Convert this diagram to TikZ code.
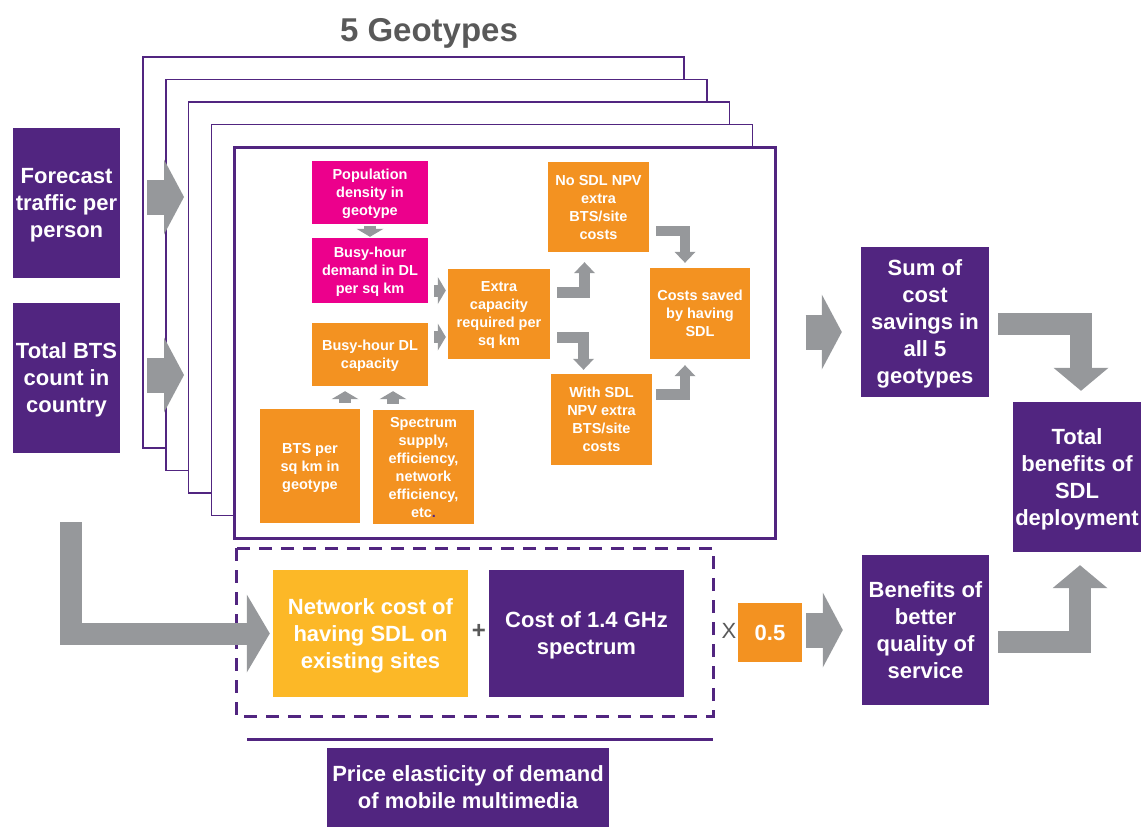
\documentclass[tikz,border=0pt]{standalone}
\usepackage{fontspec}
\setmainfont{Liberation Sans}
\usetikzlibrary{arrows.meta,calc,positioning}
\definecolor{plum}{RGB}{81,37,128}
\definecolor{mag}{RGB}{236,0,140}
\definecolor{orng}{RGB}{243,146,33}
\definecolor{gold}{RGB}{252,184,39}
\definecolor{arrgray}{RGB}{150,152,155}
\definecolor{titlegray}{RGB}{89,89,89}
\tikzset{
	txtbox/.style={inner sep=0pt,align=center,text=white,font=\bfseries\fontsize{22}{27}\selectfont,text depth=-2.5pt},
	pbox/.style={txtbox,fill=plum},
	sbox/.style={inner sep=0pt,align=center,text=white,font=\bfseries\fontsize{14.5}{18}\selectfont,text depth=-3.5pt},
	obox/.style={sbox,fill=orng},
	mbox/.style={sbox,fill=mag},
	geoframe/.style={draw=plum,fill=white,line width=1.5pt,minimum width=541pt,minimum height=391pt,inner sep=0pt},
	bigarrow/.style={arrgray,line width=35pt,-{Triangle[length=20pt,width=75pt,line width=0pt]}},
	lbarrow/.style={arrgray,line width=22pt,-{Triangle[length=23pt,width=78pt,line width=0pt]}},
	bigelbow/.style={arrgray,line width=22pt,-{Triangle[length=23pt,width=55pt,line width=0pt]}},
	smallelbow/.style={arrgray,line width=10.5pt,-{Triangle[length=11pt,width=21pt,line width=0pt]}},
	tinyarrow/.style={arrgray,line width=12pt,-{Triangle[length=8pt,width=27pt,line width=0pt]}}
}
\begin{document}
\begin{tikzpicture}[x=1pt,y=-1pt]
	\useasboundingbox (0,0) rectangle (1141,827);
	\node[font=\bfseries\fontsize{33}{38}\selectfont,text=titlegray] (title) at (429,33) {5 Geotypes};
	% stacked geotypes
	\foreach \i in {0,...,3}
		\node[geoframe] (geo\i) at (413.5+22.75*\i,252.5+22.5*\i) {};
	\node[geoframe,line width=3pt] (geo4) at (504.5,342.5) {};
	
	\node[pbox,minimum width=107pt,minimum height=150pt] (fc) at (66.5,203) {Forecast\\traffic per\\person};
	\node[pbox,minimum width=107pt,minimum height=150pt] (tbts) at (66.5,378) {Total BTS\\count in\\country};
	
	\node[mbox,minimum width=116pt,minimum height=63pt] (pop) at (370,192.5) {Population\\density in\\geotype};
	\node[mbox,minimum width=116pt,minimum height=65pt] (demand) at (370,270.5) {Busy-hour\\demand in DL\\per sq km};
	\node[obox,minimum width=116pt,minimum height=63pt] (bdl) at (370,354.5) {Busy-hour DL\\capacity};
	\node[obox,minimum width=100pt,minimum height=114pt] (bts) at (310,466) {BTS per\\sq km in\\geotype};
	\node[obox,minimum width=101pt,minimum height=114pt] (spec) at (423.5,467) {Spectrum\\supply,\\efficiency,\\network\\efficiency,\\etc{\color{plum}.}};
	\node[obox,minimum width=102pt,minimum height=90pt] (cap) at (499,313.5) {Extra\\capacity\\required per\\sq km};
	\node[obox,minimum width=101pt,minimum height=90pt] (nosdl) at (598.5,207) {No SDL NPV\\extra\\BTS/site\\costs};
	\node[obox,minimum width=101pt,minimum height=91pt] (withsdl) at (601.5,419.5) {With SDL\\NPV extra\\BTS/site\\costs};
	\node[obox,minimum width=100pt,minimum height=91pt] (saved) at (700,313.5) {Costs saved\\by having\\SDL};
	
	\draw[tinyarrow] ($(pop.south)+(0,2)$) -- ($(demand.north)+(0,-1)$);
	\draw[tinyarrow] ($(bts.north)+(35,-6)$) -- ($(bdl.south)+(-25,5)$);
	\draw[tinyarrow] ($(spec.north)+(-30.5,-6)$) -- ($(bdl.south)+(23,5)$);
	\draw[tinyarrow] ($(demand.east)+(6,20)$) -- ($(cap.west)+(-2,-23)$);
	\draw[tinyarrow] ($(bdl.east)+(6,-17.5)$) -- ($(cap.west)+(-2,23.5)$);
	\draw[smallelbow] ($(cap.east)+(7,-21)$) -| ($(nosdl.south)+(-14,10)$);
	\draw[smallelbow] ($(cap.east)+(7,24)$) -| ($(withsdl.north)+(-18,-4)$);
	\draw[smallelbow] ($(nosdl.east)+(7,24)$) -| ($(saved.north)+(-15,-5)$);
	\draw[smallelbow] ($(withsdl.east)+(4,-25)$) -| ($(saved.south)+(-15,6)$);
	
	\draw[bigarrow] ($(fc.east)+(27,-6)$) -- ($(fc.east -| geo1.west)+(19,-6)$);
	\draw[bigarrow] ($(tbts.east)+(27,-3)$) -- ($(tbts.east -| geo1.west)+(19,-3)$);
	
	% cost side
	\draw[plum,line width=3pt,dash pattern=on 13pt off 9pt] (236,548) rectangle (713,716);
	\node[txtbox,fill=gold,minimum width=195pt,minimum height=127pt] (netcost) at (370.5,633.5) {Network cost of\\having SDL on\\existing sites};
	\node[pbox,minimum width=195pt,minimum height=127pt] (spcost) at (586.5,633.5) {Cost of 1.4 GHz\\spectrum};
	\node[text=titlegray,font=\bfseries\fontsize{24}{24}\selectfont] (plus) at (479,631) {+};
	\node[text=titlegray,font=\fontsize{22}{22}\selectfont] (times) at (729,631) {X};
	\node[txtbox,fill=orng,minimum width=64pt,minimum height=59pt] (half) at (770,632.5) {0.5};
	\draw[plum,line width=3pt] (247,739) -- (713,739);
	\node[pbox,minimum width=282pt,minimum height=79pt] (price) at (468,787.5) {Price elasticity of demand\\of mobile multimedia};
	\draw[lbarrow] ($(tbts.south)+(4.5,69)$) |- ($(netcost.west)+(-3,0)$);
	
	\node[pbox,minimum width=128pt,minimum height=150pt] (sum) at (925,322) {Sum of\\cost\\savings in\\all 5\\geotypes};
	\node[pbox,minimum width=127pt,minimum height=150pt] (ben) at (925.5,630) {Benefits of\\better\\quality of\\service};
	\node[pbox,minimum width=128pt,minimum height=150pt] (total) at (1077,477) {Total\\benefits of\\SDL\\deployment};
	
	\draw[bigarrow] ($(geo4.east |- sum.west)+(29,10)$) -- ($(sum.west)+(-19,10)$);
	\draw[bigarrow] ($(half.east)+(4,-2.5)$) -- ($(ben.west)+(-19,0)$);
	\draw[bigelbow] ($(sum.east)+(9,2)$) -| ($(total.north)+(4,-11)$);
	\draw[bigelbow] ($(ben.east)+(9,12)$) -| ($(total.south)+(3,13)$);
\end{tikzpicture}
\end{document}
